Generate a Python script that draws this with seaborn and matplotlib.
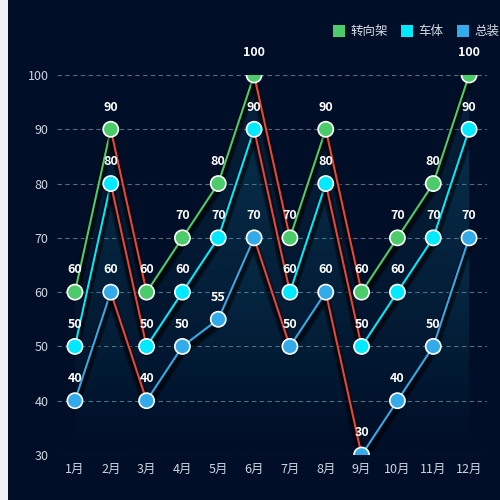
import numpy as np
import pandas as pd
import matplotlib
matplotlib.use("Agg")
import matplotlib.pyplot as plt
import matplotlib.patheffects as pe
from matplotlib.patches import Rectangle, Polygon
import seaborn as sns

# data
months = ["1月", "2月", "3月", "4月", "5月", "6月", "7月", "8月", "9月", "10月", "11月", "12月"]
zhuanxiangjia = [60, 90, 60, 70, 80, 100, 70, 90, 60, 70, 80, 100]
cheti = [50, 80, 50, 60, 70, 90, 60, 80, 50, 60, 70, 90]
zongzhuang = [40, 60, 40, 50, 55, 70, 50, 60, 30, 40, 50, 70]
series_names = ["转向架", "车体", "总装"]
series_values = [zhuanxiangjia, cheti, zongzhuang]
colors = ["#4bcb69", "#00eaff", "#33aaea"]
down_color = "#e8453c"
bg = "#010e27"

sns.set_theme(style="dark")
plt.rcParams['font.family'] = ['Noto Sans CJK SC', 'DejaVu Sans']

fig = plt.figure(figsize=(5, 5), dpi=100)
fig.patch.set_facecolor(bg)
fig.patches.append(Rectangle((0, 0), 8 / 500, 1, transform=fig.transFigure,
                             facecolor="#eff1f6", edgecolor="none"))
ax = fig.add_axes([57 / 500, 45 / 500, 430 / 500, 380 / 500])
ax.set_facecolor(bg)

x = np.arange(1, len(months) + 1)
df = pd.DataFrame({"month": np.tile(x, 3),
                   "value": np.concatenate(series_values),
                   "series": np.repeat(series_names, len(months))})

# gradient area under each series
grad = np.linspace(0, 1, 256).reshape(-1, 1)
for vals, col in zip(series_values, colors):
    verts = [(x[0], 30)] + list(zip(x, vals)) + [(x[-1], 30)]
    poly = Polygon(verts, closed=True, facecolor="none", edgecolor="none")
    ax.add_patch(poly)
    rgb = matplotlib.colors.to_rgb("#1a8fb0")
    img = np.zeros((256, 1, 4))
    img[..., :3] = rgb
    img[..., 3] = grad * 0.16
    im = ax.imshow(img, extent=[x[0], x[-1], 30, 100], origin="lower",
                   aspect="auto", zorder=1)
    im.set_clip_path(poly)

# lines, red where the value falls
shadow = [pe.SimpleLineShadow(offset=(0, -4), shadow_color="black", alpha=0.45, linewidth=6),
          pe.SimpleLineShadow(offset=(0, -4), shadow_color="black", alpha=0.4, linewidth=3),
          pe.Normal()]
for vals, col in zip(series_values, colors):
    for i in range(len(vals) - 1):
        c = down_color if vals[i + 1] < vals[i] else col
        ax.plot(x[i:i + 2], vals[i:i + 2], color=c, lw=1.5, zorder=3,
                path_effects=shadow, solid_capstyle="round")

# markers
sns.scatterplot(data=df, x="month", y="value", hue="series", palette=colors,
                s=120, edgecolor="white", linewidth=1.2, legend=False, ax=ax, zorder=5)

# value labels
for vals in series_values:
    for xi, v in zip(x, vals):
        ax.annotate(str(v), (xi, v), xytext=(0, 16), textcoords="offset points",
                    ha="center", va="center", color="white", fontsize=9,
                    fontweight="bold", zorder=6)

ax.set_xlim(0.5, 12.5)
ax.set_ylim(30, 100)
ax.set_xticks(x)
ax.set_xticklabels(months)
ax.set_yticks(range(30, 101, 10))
ax.tick_params(colors="#cfd5e0", labelsize=9, length=0, pad=6)
ax.yaxis.grid(True, color="#5a6a80", linestyle=(0, (4, 3)), lw=0.8)
ax.xaxis.grid(False)
ax.set_axisbelow(True)
for s in ax.spines.values():
    s.set_visible(False)
ax.set_xlabel("")
ax.set_ylabel("")

# legend at the top right
for name, col, lx in zip(series_names, colors, [333, 401, 457]):
    fig.patches.append(Rectangle((lx / 500, 1 - 37 / 500), 12 / 500, 12 / 500,
                                 transform=fig.transFigure, facecolor=col, edgecolor="none"))
    fig.text((lx + 17) / 500, 1 - 31 / 500, name, color="#d8dde6", fontsize=9,
             ha="left", va="center")

fig.savefig("out.png", dpi=100, facecolor=bg)
